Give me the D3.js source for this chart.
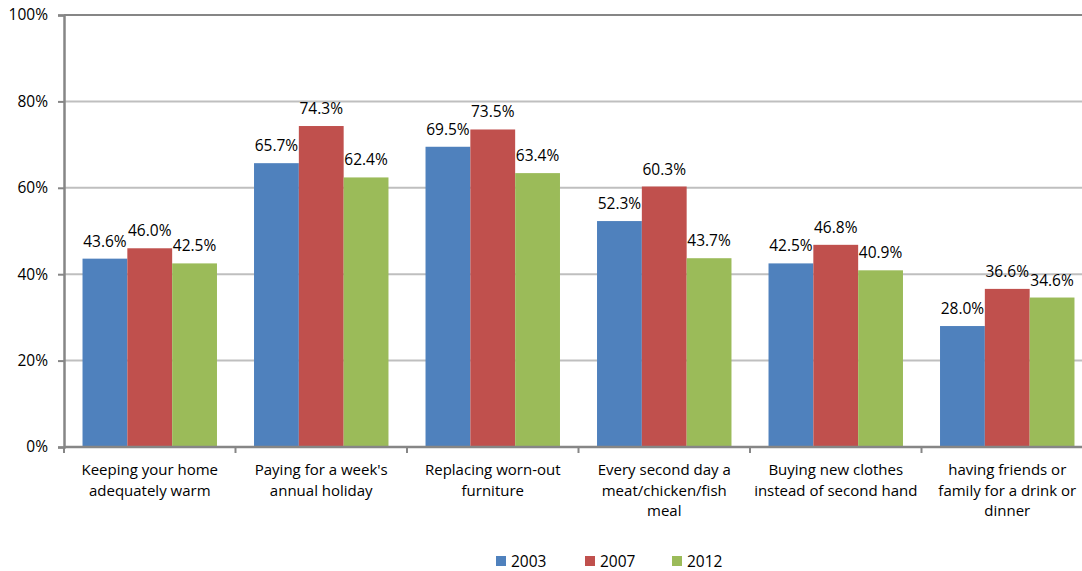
<!DOCTYPE html>
<html>
<head>
<meta charset="utf-8">
<script src="https://d3js.org/d3.v7.min.js"></script>
<style>
  body { margin: 0; background: #fff; overflow: hidden; }
  text { font-family: "Open Sans", Lato, sans-serif; fill: #000; }
</style>
</head>
<body>
<div id="chart"></div>
<script>
// data
const categories = [
  ["Keeping your home", "adequately warm"],
  ["Paying for a week's", "annual holiday"],
  ["Replacing worn-out", "furniture"],
  ["Every second day a", "meat/chicken/fish", "meal"],
  ["Buying new clothes", "instead of second hand"],
  ["having friends or", "family for a drink or", "dinner"]
];
const years = ["2003", "2007", "2012"];
const v2003 = [43.6, 65.7, 69.5, 52.3, 42.5, 28.0];
const v2007 = [46.0, 74.3, 73.5, 60.3, 46.8, 36.6];
const v2012 = [42.5, 62.4, 63.4, 43.7, 40.9, 34.6];
const yTicks = [0, 20, 40, 60, 80, 100];
const colors = ["#4f81bd", "#c0504d", "#9bbb59"];

// 圖表尺寸 (plot runs past the right edge, as in the reference)
const W = 1082, H = 571;
const margin = { top: 15, right: -11, bottom: 124, left: 64 };
const width = W - margin.left - margin.right;
const height = H - margin.top - margin.bottom;

const svg = d3.select("#chart").append("svg")
  .attr("width", W).attr("height", H);
const g = svg.append("g")
  .attr("transform", `translate(${margin.left},${margin.top})`);

const series = [v2003, v2007, v2012];
const idx = d3.range(categories.length);

const x0 = d3.scaleBand().domain(idx).range([0, width]).paddingInner(0.216).paddingOuter(0.108);
const xBound = d3.scaleLinear().domain([0, categories.length]).range([0, width]);
const x1 = d3.scaleBand().domain(d3.range(years.length)).range([0, x0.bandwidth()]);
const y = d3.scaleLinear().domain([0, 100]).range([height, 0]);

// gridlines
g.selectAll(".grid")
  .data(yTicks.filter(d => d > 0))
  .join("line")
  .attr("x1", 0).attr("x2", width)
  .attr("y1", d => y(d)).attr("y2", d => y(d))
  .attr("stroke", d => d === 100 ? "#868686" : "#bfbfbf")
  .attr("stroke-width", 2);

// bars
const groups = g.selectAll(".grp")
  .data(idx)
  .join("g")
  .attr("transform", i => `translate(${x0(i)},0)`);

groups.selectAll("rect")
  .data(i => series.map((s, k) => ({ k, v: s[i] })))
  .join("rect")
  .attr("x", d => x1(d.k))
  .attr("width", x1.bandwidth())
  .attr("y", d => y(d.v))
  .attr("height", d => height - y(d.v))
  .attr("fill", d => colors[d.k]);

groups.selectAll(".lbl")
  .data(i => series.map((s, k) => ({ k, v: s[i] })))
  .join("text")
  .attr("x", d => x1(d.k) + x1.bandwidth() / 2)
  .attr("y", d => y(d.v) - 12)
  .attr("text-anchor", "middle")
  .style("font-size", "15.5px")
  .text(d => d.v.toFixed(1) + "%");

// y axis
const yAxis = g.append("g")
  .call(d3.axisLeft(y).tickValues(yTicks).tickFormat(d => d + "%").tickSize(6).tickPadding(10));
yAxis.select(".domain").attr("stroke", "#868686").attr("stroke-width", 2.5);
yAxis.selectAll(".tick line").attr("stroke", "#868686").attr("stroke-width", 2);
yAxis.selectAll(".tick text").style("font-size", "15.5px").attr("fill", "#000");

// x axis
g.append("line")
  .attr("x1", 0).attr("x2", width)
  .attr("y1", height).attr("y2", height)
  .attr("stroke", "#868686").attr("stroke-width", 2.5);
g.selectAll(".xtick")
  .data(d3.range(categories.length + 1))
  .join("line")
  .attr("x1", d => xBound(d)).attr("x2", d => xBound(d))
  .attr("y1", height).attr("y2", height + 6)
  .attr("stroke", "#868686").attr("stroke-width", 2);

const xl = g.selectAll(".xlab")
  .data(idx)
  .join("text")
  .attr("text-anchor", "middle")
  .attr("transform", i => `translate(${x0(i) + x0.bandwidth() / 2},${height + 28})`)
  .style("font-size", "15px");
xl.selectAll("tspan")
  .data(i => categories[i])
  .join("tspan")
  .attr("x", 0)
  .attr("dy", (d, j) => j === 0 ? 0 : 20.5)
  .text(d => d);

// legend
const legendX = [496, 585, 672];
const legend = svg.append("g");
years.forEach((yr, k) => {
  legend.append("rect")
    .attr("x", legendX[k]).attr("y", 556)
    .attr("width", 10).attr("height", 10)
    .attr("fill", colors[k]);
  legend.append("text")
    .attr("x", legendX[k] + 15).attr("y", 567)
    .style("font-size", "15.5px")
    .text(yr);
});
</script>
</body>
</html>
